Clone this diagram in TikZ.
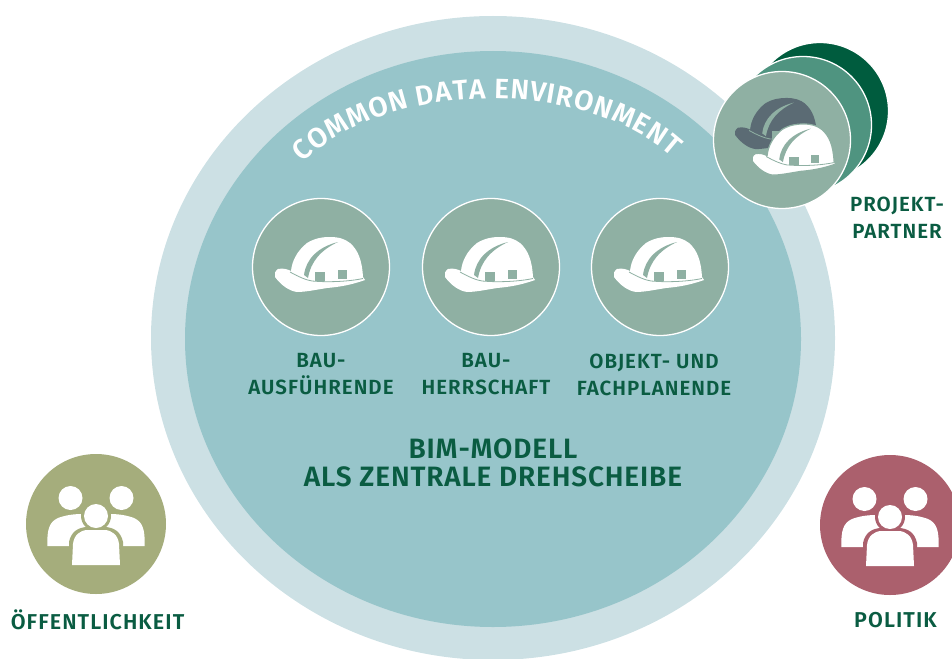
\documentclass[tikz,border=0pt]{standalone}
\usepackage{fontspec}
\setmainfont{Fira Sans}[BoldFont={Fira Sans SemiBold}]
\newfontfamily\labfont{Fira Sans SemiBold}[LetterSpace=5]
\newfontfamily\lowfont{Fira Sans SemiBold}[LetterSpace=5]
\newfontfamily\bigfont{Fira Sans SemiBold}[LetterSpace=3]
\usetikzlibrary{decorations.text}
\definecolor{ringc}{HTML}{CCE0E4}
\definecolor{innerc}{HTML}{97C5CA}
\definecolor{sage}{HTML}{8FB0A3}
\definecolor{deepg}{HTML}{005C3E}
\definecolor{midg}{HTML}{4F9480}
\definecolor{textg}{HTML}{0A5C42}
\definecolor{olive}{HTML}{A5AD7C}
\definecolor{rosec}{HTML}{AB606D}
\definecolor{slatec}{HTML}{5B6B74}
\tikzset{
  x=1pt,y=-1pt,
  disc/.style={circle,inner sep=0pt,minimum size=#1},
  rolecircle/.style={disc=137pt,fill=sage,draw=white,line width=1.3pt},
  peoplecircle/.style={disc=140pt},
  lab/.style={text=textg,font=\labfont\fontsize{20.5}{27}\selectfont,align=center},
  lowlab/.style={text=textg,font=\lowfont\fontsize{21.5}{27}\selectfont,align=center},
  biglab/.style={text=textg,font=\bigfont\fontsize{28}{28}\selectfont,align=center},
  pics/helmet/.style 2 args={code={
    \path[#1] (-30,6) .. controls (-29,-4) and (-24,-14) .. (-14,-22)
      .. controls (-6,-27) and (2,-28) .. (9,-28)
      .. controls (18,-28) and (24,-26) .. (29,-22)
      .. controls (37,-15) and (41,-5) .. (42,12) -- (44,15)
      .. controls (30,20) and (18,22) .. (6,23)
      .. controls (-6,25) and (-16,27) .. (-24,27)
      .. controls (-32,26) and (-40,20) .. (-46,12)
      .. controls (-47,9) and (-46,6) .. (-43,4)
      .. controls (-38,3) and (-34,4) .. (-30,6) -- cycle;
    \fill[#2] (-17,10) .. controls (-15,-6) and (-3,-18) .. (17,-23)
       .. controls (0,-15) and (-10,-4) .. (-13,13) -- cycle;
    \fill[#2] (-6,7) rectangle (4,16);
    \fill[#2] (17,5) rectangle (26,14);
    \draw[#2,line width=0.8pt] (-31,7) .. controls (-22,12) and (-15,15) .. (-9,16)
       .. controls (8,17.5) and (28,16.5) .. (42,13.5);
  }},
  pics/people/.style={code={
    \fill[white] (-25.5,-26) circle (12);
    \fill[white] (25.5,-26) circle (12);
    \fill[white] (-48.7,22) .. controls (-49,6) and (-47,-2) .. (-38,-6)
      .. controls (-30,-9) and (-22,-10) .. (-13,-10) -- (0,0) -- (13,-10)
      .. controls (22,-10) and (30,-9) .. (38,-6)
      .. controls (47,-2) and (49,6) .. (48.7,22) -- cycle;
    \fill[#1] (0,-8) circle (15);
    \fill[#1] (-27,45) -- (-27,18) .. controls (-25,8) and (-18,3) .. (-8,3) -- (8,3)
      .. controls (18,3) and (25,8) .. (27,18) -- (27,45) -- cycle;
    \fill[white] (0,-8) circle (12);
    \fill[white] (-24,41) -- (-23,20) .. controls (-22,11) and (-16,6) .. (-8,6) -- (8,6)
      .. controls (16,6) and (22,11) .. (23,20) -- (24,41) -- cycle;
  }},
}
\begin{document}
\begin{tikzpicture}
\useasboundingbox (0,0) rectangle (952,658);
\clip (0,0) rectangle (952,658);
\fill[ringc] (493,338) ellipse [x radius=342,y radius=322];
\fill[innerc] (493,339) ellipse [x radius=308,y radius=288];
% curved title
\coordinate (arcL) at (303,163);
\coordinate (arcR) at (672,157);
\path[postaction={decorate,decoration={text along path,text align={fit to path},
   text={|\bfseries\fontsize{28}{28}\selectfont\color{white}|COMMON DATA ENVIRONMENT}}}]
   (arcL) .. controls (390,78) and (585,78) .. (arcR);
% role circles
\node[rolecircle] (c1) at (321,267) {};
\node[rolecircle] (c2) at (491,267) {};
\node[rolecircle] (c3) at (660,267) {};
\pic at (321,265) {helmet={fill=white}{sage}};
\pic at (491,265) {helmet={fill=white}{sage}};
\pic at (660,265) {helmet={fill=white}{sage}};
\node[lab] (l1) at (321,374.5) {BAU-\\AUSFÜHRENDE};
\node[lab] (l2) at (486,374.5) {BAU-\\HERRSCHAFT};
\node[lab] (l3) at (654,374.5) {OBJEKT- UND\\FACHPLANENDE};
\node[biglab] (bim) at (493,463) {BIM-MODELL\\ALS ZENTRALE DREHSCHEIBE};
% partners
\node[rolecircle,fill=deepg] (p3) at (820,111) {};
\node[rolecircle,fill=midg] (p2) at (803,125) {};
\node[rolecircle] (p1) at (782,140) {};
\pic[scale=0.93] at (778,124) {helmet={fill=slatec}{sage}};
\pic[scale=0.93] at (795,150) {helmet={fill=white,draw=sage,line width=1.2pt}{sage}};
\node[lab] (l4) at (897,218) {PROJEKT-\\PARTNER};
% groups
\node[peoplecircle,fill=olive] (g1) at (96,524) {};
\pic at (g1) {people=olive};
\node[lowlab] (l5) at (97.5,620) {ÖFFENTLICHKEIT};
\node[peoplecircle,fill=rosec] (g2) at (890,525) {};
\pic at (g2) {people=rosec};
\node[lowlab] (l6) at (895.5,620) {POLITIK};
\end{tikzpicture}
\end{document}
